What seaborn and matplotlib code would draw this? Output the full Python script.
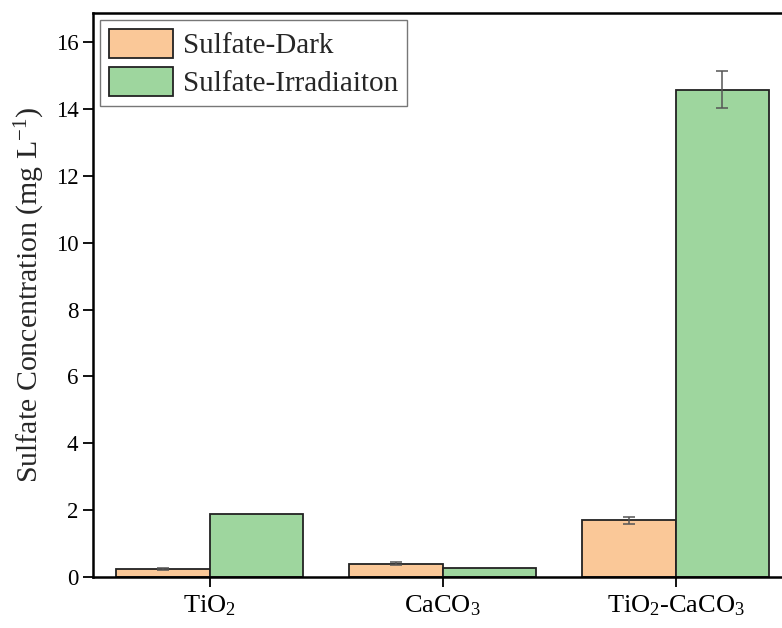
import matplotlib
matplotlib.use("Agg")
import matplotlib.pyplot as plt
import seaborn as sns
import pandas as pd

categories = ["TiO$_2$", "CaCO$_3$", "TiO$_2$-CaCO$_3$"]
series = ["Sulfate-Dark", "Sulfate-Irradiaiton"]
dark_vals = [0.24, 0.40, 1.70]
dark_err = [0.02, 0.05, 0.10]
irr_vals = [1.87, 0.26, 14.58]
irr_err = [0.0, 0.0, 0.55]
colors = ["#FAC898", "#9ED69E"]

sns.set_theme(style="ticks")
plt.rcParams["font.family"] = ["Liberation Serif", "DejaVu Serif"]
plt.rcParams["mathtext.fontset"] = "custom"
plt.rcParams["mathtext.rm"] = "Liberation Serif"
plt.rcParams["mathtext.it"] = "Liberation Serif:italic"

df = pd.DataFrame({
    "cat": categories * 2,
    "series": [series[0]] * 3 + [series[1]] * 3,
    "val": dark_vals + irr_vals,
    "err": dark_err + irr_err,
})

fig = plt.figure(figsize=(7.82, 6.28), dpi=100)
ax = fig.add_axes([93 / 782, (628 - 577) / 628, (792 - 93) / 782, (577 - 13) / 628])
sns.barplot(data=df, x="cat", y="val", hue="series", palette=colors,
            errorbar=None, width=0.8, edgecolor="#222222", linewidth=1.3,
            saturation=1, ax=ax)

# error bars at bar centres
for i, p in enumerate(ax.patches[:6]):
    xc = p.get_x() + p.get_width() / 2
    h = df["val"].iloc[i]
    e = df["err"].iloc[i]
    if e > 0:
        ax.errorbar(xc, h, yerr=e, color="#555555", capsize=4.5, elinewidth=1.1,
                    capthick=1.1, zorder=5)

ax.set_xlim(-0.5, 2.5)
ax.set_ylim(0, 16.87)
ax.set_yticks(range(0, 17, 2))
ax.set_xlabel("")
ax.set_ylabel("Sulfate Concentration (mg L$^{-1}$)", fontsize=21.5, labelpad=6)
ax.tick_params(axis="both", direction="out", length=7, width=1.3,
               color="black", labelcolor="black")
ax.tick_params(axis="y", labelsize=16.5)
ax.tick_params(axis="x", labelsize=19, pad=5)
for s in ax.spines.values():
    s.set_linewidth(1.8)
    s.set_color("black")

leg = ax.legend(loc="upper left", fontsize=21, frameon=True, fancybox=False,
                edgecolor="#555555", handlelength=2.2, handleheight=1.15,
                borderpad=0.3, labelspacing=0.25, handletextpad=0.35,
                borderaxespad=0.25)
leg.get_frame().set_linewidth(1.0)
leg.set_title(None)

fig.savefig("out.png", dpi=100)
